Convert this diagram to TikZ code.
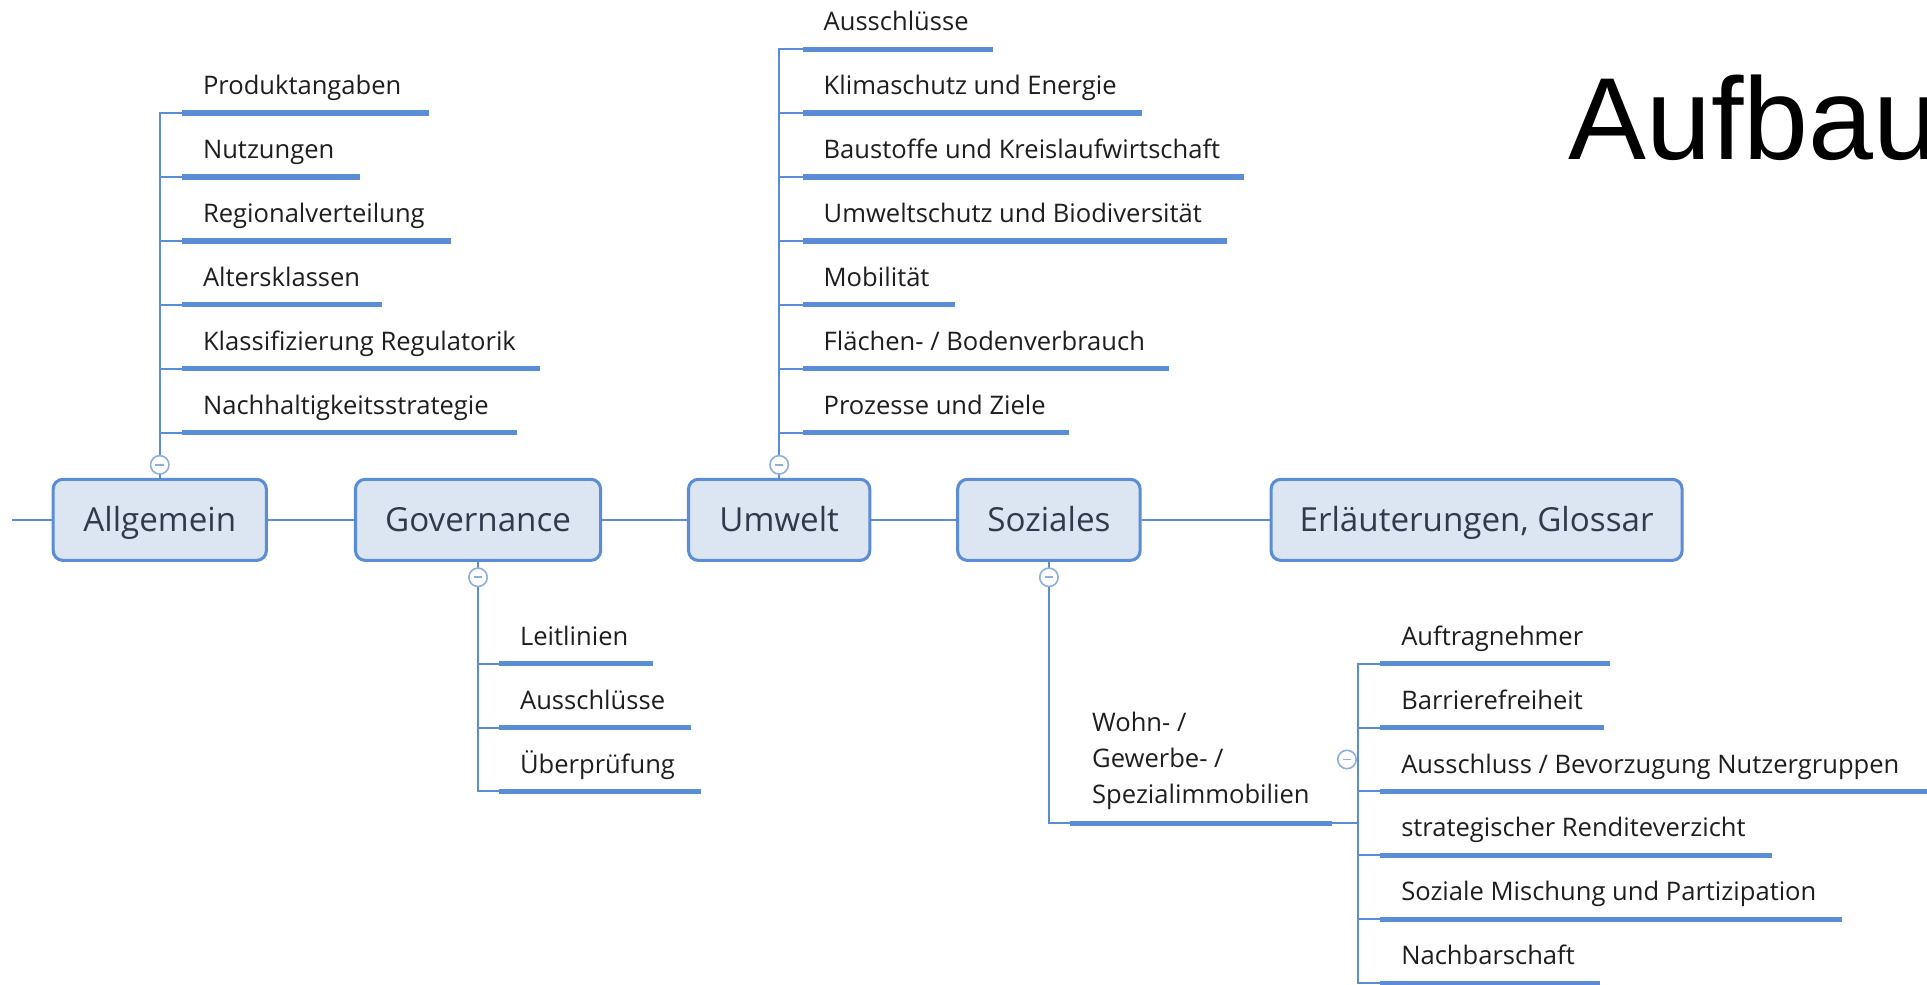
\documentclass[tikz,border=0pt]{standalone}
\usepackage{fontspec}
\setmainfont{Open Sans}
\newfontfamily\titlefont{Liberation Sans}
\definecolor{lnc}{HTML}{5B8DD6}
\definecolor{boxfill}{HTML}{DCE6F2}
\definecolor{boxc}{HTML}{5B8DD6}
\definecolor{togc}{HTML}{8EADE0}
\definecolor{txt}{HTML}{1E1E1E}
\definecolor{boxtxt}{HTML}{2F3B4C}
\newcommand\leafitem[5]{%
  \node[leaf, anchor=base west] (#1) at (#2+17,#3-15) {#5};
  \coordinate (#1-s) at (#2,#3);
  \coordinate (#1-e) at (#4,#3);
  \draw[uline] (#1-s) -- (#1-e);}
\begin{document}
\begin{tikzpicture}[x=1pt,y=-1pt,
  conn/.style={draw=lnc, line width=1.6pt},
  uline/.style={draw=lnc, line width=4.3pt},
  mainbox/.style={draw=boxc, fill=boxfill, line width=2.5pt, rounded corners=8pt,
    minimum height=66pt, inner sep=0pt, text height=19.3pt, text depth=0pt,
    font=\fontsize{27}{32}\selectfont, text=boxtxt},
  leaf/.style={inner sep=0pt, font=\fontsize{20.8}{29.3}\selectfont, text=txt},
  tog/.style={circle, draw=togc, fill=white, line width=1.3pt, minimum size=15pt, inner sep=0pt,
    path picture={\draw[togc, line width=1.4pt] ([xshift=-3.5pt]path picture bounding box.center) -- ([xshift=3.5pt]path picture bounding box.center);}}
]
\clip (0,0) rectangle (1568,801);

% main topics
\node[mainbox, minimum width=173.5pt] (allg) at (130,423) {Allgemein};
\node[mainbox, minimum width=199.5pt] (gov) at (389,423) {Governance};
\node[mainbox, minimum width=147.5pt] (umw) at (634,423) {Umwelt};
\node[mainbox, minimum width=148.5pt] (soz) at (853.5,423) {Soziales};
\node[mainbox, minimum width=334.5pt] (erl) at (1201.5,423) {Erläuterungen, Glossar};
\coordinate (stub) at (10,423);
\draw[conn] (stub) -- (allg.west);
\draw[conn] (allg.east) -- (gov.west);
\draw[conn] (gov.east) -- (umw.west);
\draw[conn] (umw.east) -- (soz.west);
\draw[conn] (soz.east) -- (erl.west);

% Allgemein
\leafitem{a1}{148}{92}{349}{Produktangaben}
\leafitem{a2}{148}{144}{293}{Nutzungen}
\leafitem{a3}{148}{196}{367}{Regionalverteilung}
\leafitem{a4}{148}{248}{311}{Altersklassen}
\leafitem{a5}{148}{300}{439}{Klassifizierung Regulatorik}
\leafitem{a6}{148}{352}{421}{Nachhaltigkeitsstrategie}
\foreach \i in {1,...,6} \draw[conn] (allg.north) |- (a\i-s);

% Umwelt
\leafitem{u1}{653}{40}{808}{Ausschlüsse}
\leafitem{u2}{653}{92}{929}{Klimaschutz und Energie}
\leafitem{u3}{653}{144}{1012}{Baustoffe und Kreislaufwirtschaft}
\leafitem{u4}{653}{196}{998}{Umweltschutz und Biodiversität}
\leafitem{u5}{653}{248}{777}{Mobilität}
\leafitem{u6}{653}{300}{951}{Flächen- / Bodenverbrauch}
\leafitem{u7}{653}{352}{870}{Prozesse und Ziele}
\foreach \i in {1,...,7} \draw[conn] (umw.north) |- (u\i-s);

% Governance
\leafitem{g1}{406}{540}{531}{Leitlinien}
\leafitem{g2}{406}{592}{562}{Ausschlüsse}
\leafitem{g3}{406}{644}{570}{Überprüfung}
\foreach \i in {1,...,3} \draw[conn] (gov.south) |- (g\i-s);

% Soziales
\node[leaf, anchor=south west, text depth=0pt, align=left] (wohn) at (888.5,654) {Wohn- /\\Gewerbe- /\\Spezialimmobilien};
\coordinate (w-s) at (871,670);
\coordinate (w-e) at (1084,670);
\coordinate (wj) at (1105,670);
\draw[uline] (w-s) -- (w-e);
\draw[conn] (soz.south) |- (w-s);
\draw[conn] (w-e) -- (wj);
\leafitem{s1}{1123}{540}{1310}{Auftragnehmer}
\leafitem{s2}{1123}{592}{1305}{Barrierefreiheit}
\leafitem{s3}{1123}{644}{1575}{Ausschluss / Bevorzugung Nutzergruppen}
\leafitem{s4}{1123}{696}{1442}{strategischer Renditeverzicht}
\leafitem{s5}{1123}{748}{1499}{Soziale Mischung und Partizipation}
\leafitem{s6}{1123}{800}{1302}{Nachbarschaft}
\foreach \i in {1,...,6} \draw[conn] (wj) |- (s\i-s);

% collapse toggles
\node[tog] (ta) at ([yshift=10.5pt]allg.north) {};
\node[tog] (tu) at ([yshift=10.5pt]umw.north) {};
\node[tog] (tg) at ([yshift=-12.5pt]gov.south) {};
\node[tog] (ts) at ([yshift=-12.5pt]soz.south) {};
\node[tog] (tw) at (1096,618) {};

% title
\node[anchor=base west, inner sep=0pt, font=\titlefont\fontsize{95}{110}\selectfont] (title) at (1276,130) {Aufbau};
\end{tikzpicture}
\end{document}
